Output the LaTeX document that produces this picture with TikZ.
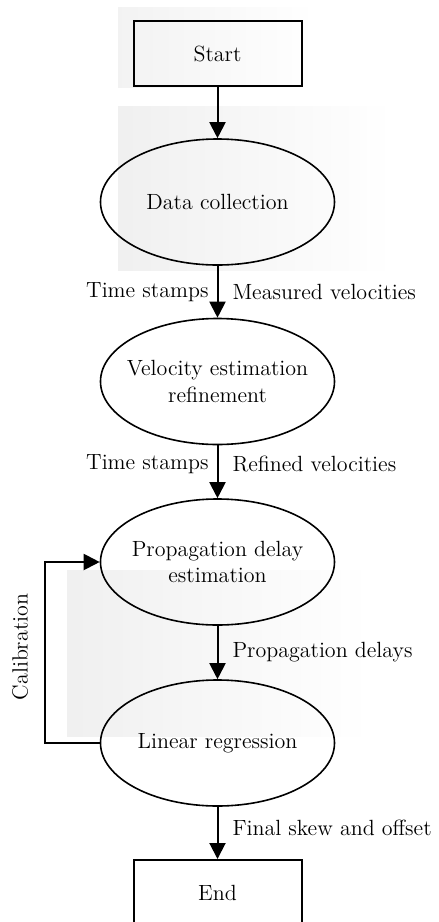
\documentclass[tikz,border=0pt]{standalone}
\usetikzlibrary{arrows.meta,shapes.geometric}
\begin{document}
\begin{tikzpicture}[x=0.5pt,y=-0.5pt,
  every node/.style={font=\fontsize{11}{13.2}\selectfont},
  box/.style={draw,line width=1pt,minimum width=84pt,minimum height=32.5pt,inner sep=0pt},
  oval/.style={draw,ellipse,line width=0.8pt,minimum width=117pt,minimum height=63pt,inner sep=0pt},
  ovaltext/.style={align=center,inner sep=0pt},
  arr/.style={line width=1pt,-{Triangle[length=8pt,width=8pt]}},
  lab/.style={inner sep=2pt}]
\useasboundingbox (0,0) rectangle (439,922);
\shade[left color=black!5,right color=white] (118,7) rectangle (315,87);
\shade[left color=black!6,right color=white] (118,106) rectangle (393,270);
\shade[left color=black!6,right color=white] (67,570) rectangle (370,736);
\node[box] (start) at (217.5,53.5) {Start};
\node[oval,label={[ovaltext]center:Data collection}] (data) at (217.5,202) {};
\node[oval,label={[ovaltext]center:Velocity estimation\\refinement}] (vel) at (217.5,381.5) {};
\node[oval,label={[ovaltext]center:Propagation delay\\estimation}] (prop) at (217.5,562) {};
\node[oval,label={[ovaltext]center:Linear regression}] (lin) at (217.5,743) {};
\node[box] (end) at (217.5,892.5) {End};
\draw[arr] (start) -- (data);
\draw[arr] (data) -- node[lab,left=2pt]{Time stamps} node[lab,right=5pt]{Measured velocities} (vel);
\draw[arr] (vel) -- node[lab,left=2pt,pos=0.35]{Time stamps} node[lab,right=5pt,pos=0.35]{Refined velocities} (prop);
\draw[arr] (prop) -- node[lab,right=5pt]{Propagation delays} (lin);
\draw[arr] (lin) -- node[lab,right=5pt,pos=0.4]{Final skew and offset} (end);
\coordinate (fb) at (45,743);
\draw[arr] (lin.west) -- (fb) |- (prop.west);
\node[rotate=90] (cal) at (20,647) {Calibration};
\end{tikzpicture}
\end{document}
